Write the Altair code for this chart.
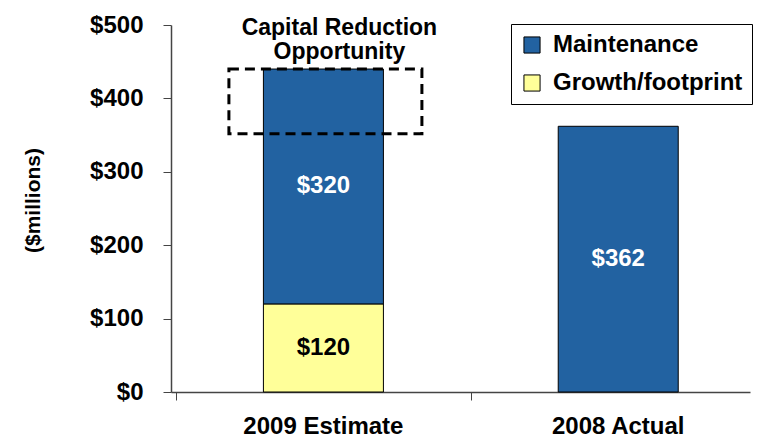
import altair as alt
import pandas as pd

categories = ["2009 Estimate", "2008 Actual"]
series = ["Maintenance", "Growth/footprint"]
maintenance = [320, 362]
growth = [120, 0]
y_ticks = [0, 100, 200, 300, 400, 500]
opportunity_low = [352]
opportunity_high = [440]
annotation = ["Capital Reduction", "Opportunity"]

BLUE = "#2262A1"
YELLOW = "#FFFF99"
FONT = "Arial, Liberation Sans, sans-serif"
W, H = 579, 367
BAND = 300  # pixel width of one category slot

rows = []
for i, c in enumerate(categories):
    for s, vals, order in [("Growth/footprint", growth, 0), ("Maintenance", maintenance, 1)]:
        v = vals[i]
        if v > 0:
            rows.append({"category": c, "pos": i + 0.5, "series": s, "value": v,
                         "order": order, "label": f"${v}"})
df = pd.DataFrame(rows)
cat_df = pd.DataFrame({"category": categories,
                       "pos": [i + 0.5 for i in range(len(categories))]})
box_df = pd.DataFrame({"pos": [0.5], "lo": opportunity_low,
                       "hi": opportunity_high})

x_scale = alt.Scale(domain=[0, W / BAND], nice=False, zero=False)
x_axis = alt.Axis(values=[0, 1], labels=False, title=None, grid=False,
                  tickSize=8, tickColor="#444", domainColor="#444",
                  domainWidth=1.5)

y_axis = alt.Axis(values=y_ticks, labelExpr="'$' + datum.value", grid=False,
                  title="($millions)", titleFont=FONT, titleFontSize=21,
                  titleFontWeight="bold", titleColor="black", titlePadding=46,
                  titleY=175,
                  labelFont=FONT, labelFontSize=24, labelFontWeight="bold",
                  labelColor="black", labelPadding=20, tickSize=8,
                  tickColor="#444", domainColor="#444", domainWidth=1.5)
y_scale = alt.Scale(domain=[0, 500], nice=False)

bars = alt.Chart(df).mark_bar(size=120, stroke="black", strokeWidth=1).encode(
    x=alt.X("pos:Q", scale=x_scale, axis=x_axis),
    y=alt.Y("value:Q", stack="zero", scale=y_scale, axis=y_axis),
    color=alt.Color(
        "series:N",
        scale=alt.Scale(domain=series, range=[BLUE, YELLOW]),
        legend=alt.Legend(
            title=None, orient="none", legendX=340, legendY=-1,
            direction="vertical", labelFont=FONT, labelFontSize=24,
            labelFontWeight="bold", labelColor="black", labelLimit=0,
            symbolType="square",
            symbolSize=260, symbolStrokeColor="black", symbolStrokeWidth=1,
            symbolOpacity=1, strokeColor="black", fillColor="white",
            padding=9, rowPadding=14, labelOffset=9,
        ),
    ),
    order=alt.Order("order:Q"),
)

labels = alt.Chart(df).transform_stack(
    stack="value", groupby=["pos"], sort=[alt.SortField("order")],
    as_=["v0", "v1"],
).transform_calculate(mid="(datum.v0 + datum.v1) / 2").mark_text(
    font=FONT, fontSize=24, fontWeight="bold", baseline="middle",
).encode(
    x=alt.X("pos:Q", scale=x_scale, axis=x_axis),
    y=alt.Y("mid:Q", scale=y_scale, axis=y_axis),
    text="label:N",
    color=alt.condition("datum.series == 'Maintenance'", alt.value("white"),
                        alt.value("black")),
)

cat_labels = alt.Chart(cat_df).mark_text(
    font=FONT, fontSize=24, fontWeight="bold", baseline="alphabetic",
    color="black",
).encode(
    x=alt.X("pos:Q", scale=x_scale, axis=x_axis),
    y=alt.value(H + 42),
    text="category:N",
)

box = alt.Chart(box_df).mark_bar(
    size=193, fillOpacity=0, stroke="black", strokeWidth=3,
    strokeDash=[10, 6], xOffset=2,
).encode(
    x=alt.X("pos:Q", scale=x_scale, axis=x_axis),
    y=alt.Y("hi:Q", scale=y_scale, axis=y_axis),
    y2="lo:Q",
)

note = alt.Chart(box_df).mark_text(
    text=annotation, font=FONT, fontSize=23, fontWeight="bold",
    baseline="alphabetic", lineHeight=24, dx=16, color="black",
).encode(
    x=alt.X("pos:Q", scale=x_scale, axis=x_axis),
    y=alt.datum(486),
)

chart = alt.layer(bars, labels, cat_labels, box, note).properties(
    width=W, height=H,
    padding={"left": 14, "top": 5, "right": 0, "bottom": 0},
).configure_view(stroke=None)

chart.save("out.html", embed_options={"renderer": "svg", "actions": False})
